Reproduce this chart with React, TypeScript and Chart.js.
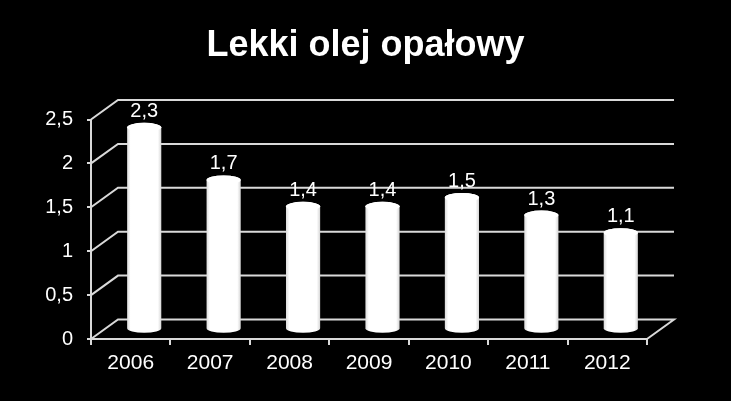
import React, { useRef, useEffect } from 'react';
import { Chart, registerables } from 'chart.js';

Chart.register(...registerables);

const years = ['2006', '2007', '2008', '2009', '2010', '2011', '2012'];
const values = [2.3, 1.7, 1.4, 1.4, 1.5, 1.3, 1.1];
const yMax = 2.5;
const yStep = 0.5;

const FONT = '"Liberation Sans", Arial, sans-serif';
const LINE = '#d9d9d9';
// depth of the fake 3d box
const DX = 27;
const DY = -19.5;

const fmt = (v: number) => String(v).replace('.', ',');

const box3d = {
  id: 'box3d',
  beforeDatasetsDraw(chart: any) {
    const { ctx, chartArea } = chart;
    const y = chart.scales.y;
    ctx.save();
    ctx.strokeStyle = LINE;
    ctx.lineWidth = 2;
    y.ticks.forEach((t: any) => {
      const py = y.getPixelForValue(t.value);
      ctx.beginPath();
      ctx.moveTo(chartArea.left, py);
      ctx.lineTo(chartArea.left + DX, py + DY);
      ctx.lineTo(chartArea.right + DX, py + DY);
      if (t.value === 0) ctx.lineTo(chartArea.right, py);
      ctx.stroke();
    });
    ctx.restore();
  },
  afterDatasetsDraw(chart: any) {
    const { ctx } = chart;
    const meta = chart.getDatasetMeta(0);
    ctx.save();
    meta.data.forEach((bar: any, i: number) => {
      const cx = bar.x + DX / 2;
      const top = bar.y + DY / 2;
      const bot = bar.base + DY / 2;
      const rx = bar.width / 2;
      const ry = 4.5;
      const g = ctx.createLinearGradient(cx - rx, 0, cx + rx, 0);
      g.addColorStop(0, '#dcdcdc');
      g.addColorStop(0.1, '#ffffff');
      g.addColorStop(0.9, '#ffffff');
      g.addColorStop(1, '#d6d6d6');
      ctx.fillStyle = g;
      ctx.beginPath();
      ctx.moveTo(cx - rx, top);
      ctx.lineTo(cx - rx, bot);
      ctx.ellipse(cx, bot, rx, ry, 0, Math.PI, 0, true);
      ctx.lineTo(cx + rx, top);
      ctx.ellipse(cx, top, rx, ry, 0, 0, Math.PI, true);
      ctx.closePath();
      ctx.fill();
      ctx.fillStyle = '#ffffff';
      ctx.beginPath();
      ctx.ellipse(cx, top, rx, ry, 0, 0, Math.PI * 2);
      ctx.fill();

      ctx.fillStyle = '#ffffff';
      ctx.font = `20px ${FONT}`;
      ctx.textAlign = 'center';
      ctx.textBaseline = 'alphabetic';
      ctx.fillText(fmt(values[i]), cx, top - ry - 6);
    });
    ctx.restore();
  },
};

const App: React.FC = () => {
  const chartRef = useRef<HTMLCanvasElement | null>(null);
  const chartInstance = useRef<Chart | null>(null);

  useEffect(() => {
    document.body.style.margin = '0';
    document.body.style.background = '#000';
    if (chartInstance.current) {
      chartInstance.current.destroy();
    }
    const myChartRef = chartRef.current?.getContext('2d');
    if (myChartRef) {
      chartInstance.current = new Chart(myChartRef, {
        type: 'bar',
        data: {
          labels: years,
          datasets: [
            {
              label: 'Lekki olej opałowy',
              data: values,
              backgroundColor: 'rgba(0,0,0,0)',
              borderWidth: 0,
              categoryPercentage: 1,
              barPercentage: 0.43,
            },
          ],
        },
        options: {
          animation: false,
          responsive: false,
          layout: { padding: 0 },
          plugins: {
            legend: { display: false },
            tooltip: { enabled: false },
            title: {
              display: true,
              text: 'Lekki olej opałowy',
              color: '#ffffff',
              font: { family: FONT, size: 36, weight: 'bold' },
              padding: { top: 24, bottom: 52.3 },
            },
          },
          scales: {
            x: {
              afterFit: (s: any) => { s.height = 62; },
              grid: { drawOnChartArea: false, drawTicks: true, tickLength: 6, color: LINE, lineWidth: 2 },
              border: { display: true, color: LINE, width: 2 },
              ticks: { color: '#ffffff', font: { family: FONT, size: 21 }, padding: 6 },
            },
            y: {
              min: 0,
              max: yMax,
              afterFit: (s: any) => { s.width = 91; },
              grid: { drawOnChartArea: false, drawTicks: true, tickLength: 4, color: LINE, lineWidth: 2 },
              border: { display: true, color: LINE, width: 2 },
              ticks: {
                stepSize: yStep,
                color: '#ffffff',
                font: { family: FONT, size: 20 },
                padding: 14,
                callback: (v: any) => fmt(Number(v)),
              },
            },
            // empty right-hand axis, only keeps room for the box depth
            yRight: {
              position: 'right',
              min: 0,
              max: yMax,
              afterFit: (s: any) => { s.width = 84; },
              grid: { display: false },
              border: { display: false },
              ticks: { display: false },
            },
          },
        },
        plugins: [box3d],
      });
    }
    return () => {
      if (chartInstance.current) {
        chartInstance.current.destroy();
      }
    };
  }, []);

  return (
    <div style={{ width: 731, height: 401, background: '#000' }}>
      <canvas ref={chartRef} width={731} height={401} />
    </div>
  );
};

export default App;
